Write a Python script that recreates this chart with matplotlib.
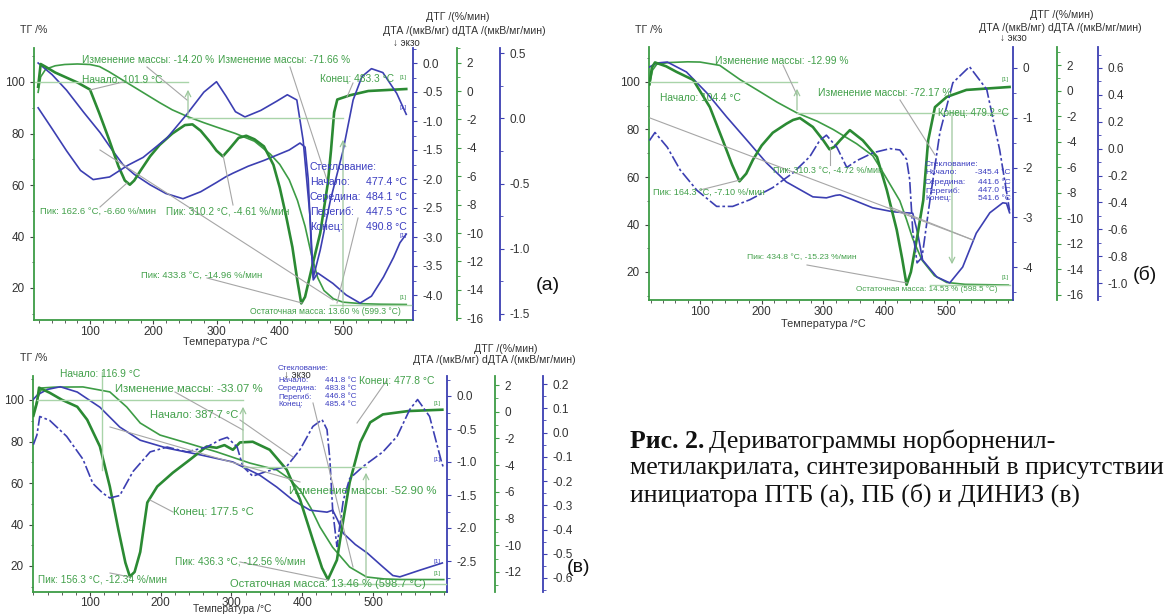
import matplotlib.pyplot as plt
from matplotlib.ticker import MultipleLocator, FormatStrFormatter

plt.rcParams['font.family'] = ['Liberation Sans', 'DejaVu Sans']
plt.rcParams['axes.unicode_minus'] = False

# ---------------- (а) ПТБ ----------------
t_tg_a = [18, 22, 30, 45, 60, 80, 100, 115, 130, 150, 170, 190, 210, 230, 255, 280, 300, 330, 360, 385,
          400, 415, 428, 440, 450, 460, 470, 485, 500, 530, 560, 600]
tg_a = [96, 102, 105, 106.3, 106.8, 107, 106.8, 106, 104, 101, 98, 95, 92, 89.2, 86.5, 84.2, 82.5, 80, 77, 72,
        68, 62, 54, 44, 33, 24, 19, 15.8, 14.5, 13.9, 13.7, 13.6]
t_dtg_a = [18, 22, 30, 45, 60, 80, 100, 115, 130, 145, 155, 163, 170, 180, 195, 210, 230, 250, 262, 275,
           290, 300, 310, 320, 335, 347, 360, 375, 390, 400, 410, 420, 428, 434, 440, 451, 464, 476, 481, 486,
           491, 511, 540, 600]
dtg_a = [0.3, 1.9, 1.7, 1.3, 1.0, 0.6, 0.1, -1.6, -3.4, -5.3, -6.3, -6.6, -6.3, -5.6, -4.6, -3.8, -3.0, -2.4, -2.35, -2.8,
         -3.6, -4.2, -4.6, -4.1, -3.3, -3.15, -3.4, -3.9, -5.2, -6.8, -8.8, -11.0, -13.4, -14.96, -14.5, -12.4, -10.0, -6.5, -4.2, -1.5,
         -0.6, -0.3, 0.0, 0.14]
t_dta_a = [18, 40, 63, 90, 116, 135, 152, 170, 195, 220, 247, 275, 300, 315, 326, 350, 375, 395, 415, 432,
           440, 445, 450, 453, 460, 484, 505, 527, 545, 564, 580, 590, 600]
dta_a = [0.0, -0.2, -0.47, -0.85, -1.2, -1.5, -1.75, -1.92, -2.1, -2.25, -2.34, -2.22, -2.06, -1.96, -1.9, -1.78, -1.68, -1.59, -1.5, -1.38,
         -1.45, -2.0, -3.2, -3.74, -3.62, -3.8, -4.0, -4.14, -4.02, -3.69, -3.35, -3.1, -2.95]
t_dd_a = [18, 40, 63, 85, 105, 131, 160, 184, 222, 253, 280, 300, 315, 330, 345, 370, 395, 412, 427, 437,
          448, 453, 464, 480, 500, 516, 530, 545, 563, 585, 600]
dd_a = [0.08, -0.08, -0.25, -0.4, -0.47, -0.45, -0.36, -0.3, -0.15, 0.03, 0.2, 0.28, 0.17, 0.05, 0.01, 0.06, 0.13, 0.18, 0.14, -0.17,
        -0.76, -1.22, -1.01, -0.63, -0.25, 0.14, 0.32, 0.38, 0.35, 0.19, 0.03]

# ---------------- (б) ПБ ----------------
t_tg_b = [18, 23, 30, 50, 80, 100, 132, 165, 193, 225, 257, 290, 316, 354, 380, 392, 408, 424, 435, 445,
          460, 480, 500, 530, 600]
tg_b = [98.7, 105, 107.5, 108.2, 108.5, 108.4, 107, 101, 96.6, 91.5, 87, 83.5, 80, 74, 69, 64, 57, 50, 42, 34,
        25, 18.5, 15.6, 14.8, 14.5]
t_dtg_b = [18, 22, 27, 45, 62, 89, 116, 137, 152, 164, 175, 186, 200, 218, 240, 251, 262, 283, 300, 310,
           318, 327, 343, 364, 387, 403, 419, 428, 435, 442, 452, 462, 470, 481, 500, 532, 602]
dtg_b = [0.5, 1.8, 2.2, 1.9, 1.46, 0.83, -1.3, -3.9, -5.8, -7.1, -6.5, -5.4, -4.3, -3.3, -2.6, -2.3, -2.15, -2.85, -3.9, -4.6,
         -4.4, -3.9, -3.1, -3.9, -5.2, -7.8, -10.9, -13.2, -15.2, -14.2, -11.5, -8.6, -3.9, -1.3, -0.5, 0.05, 0.28]
t_dta_b = [18, 30, 47, 78, 111, 143, 176, 208, 240, 283, 305, 320, 327, 348, 380, 413, 445, 453, 461, 484,
           505, 526, 548, 570, 591, 597, 602]
dta_b = [0.02, 0.1, 0.12, -0.08, -0.5, -0.98, -1.45, -1.91, -2.29, -2.59, -2.61, -2.56, -2.55, -2.65, -2.81, -2.89, -2.92, -3.32, -3.86, -4.2,
         -4.32, -4.0, -3.32, -2.91, -2.71, -2.72, -2.91]
t_dd_b = [18, 27, 47, 68, 95, 127, 153, 181, 218, 251, 278, 294, 305, 322, 338, 354, 381, 408, 424, 435,
          440, 445, 452, 460, 473, 489, 510, 537, 565, 586, 602]
dd_b = [0.06, 0.12, 0.01, -0.16, -0.31, -0.43, -0.43, -0.38, -0.29, -0.18, -0.06, 0.06, 0.10, 0.01, -0.14, -0.09, -0.03, 0.0, -0.01, -0.08,
        -0.23, -0.61, -0.85, -0.81, -0.38, 0.12, 0.49, 0.61, 0.44, -0.01, -0.46]

# ---------------- (в) ДИНИЗ ----------------
t_tg_v = [20, 25, 32, 50, 90, 128, 152, 171, 199, 237, 279, 326, 364, 380, 397, 412, 425, 443, 467, 491,
          515, 538, 600]
tg_v = [93, 100, 105.8, 106.2, 106.3, 103.9, 96.6, 88.9, 83.1, 79.3, 75, 69.6, 66.3, 62.5, 56.6, 48, 38.8, 29, 19.5, 14.7,
        13.8, 13.5, 13.46]
t_dtg_v = [20, 25, 28, 43, 60, 82, 96, 114, 128, 140, 150, 156.3, 163, 171, 181, 195, 217, 241, 265, 279,
           290, 302, 312, 330, 354, 378, 397, 415, 428, 436.3, 449, 458, 467, 482, 496, 514, 550, 598]
dtg_v = [-0.3, 0.67, 1.8, 1.42, 0.9, 0.37, -0.6, -2.6, -5.6, -8.8, -11.3, -12.34, -12.0, -10.5, -6.8, -5.6, -4.57, -3.6, -2.6, -2.7,
         -2.5, -2.85, -2.3, -2.25, -2.85, -4.34, -6.6, -9.6, -11.7, -12.56, -11.1, -8.1, -5.3, -2.3, -0.8, -0.2, 0.05, 0.15]
t_dta_v = [20, 26, 40, 58, 82, 114, 142, 171, 209, 255, 302, 340, 364, 387, 411, 435, 443, 450, 458, 475,
           492, 514, 528, 538, 566, 598]
dta_v = [-0.05, 0.02, 0.1, 0.14, 0.06, -0.17, -0.47, -0.67, -0.79, -0.89, -1.0, -1.2, -1.38, -1.58, -1.73, -1.76, -1.73, -1.88, -2.08, -2.25,
         -2.38, -2.59, -2.72, -2.74, -2.64, -2.53]
t_dd_v = [20, 25, 29, 43, 67, 90, 104, 118, 128, 142, 161, 185, 209, 237, 265, 284, 294, 308, 316, 330,
          350, 378, 397, 415, 428, 435, 439, 443, 449, 458, 467, 486, 514, 534, 552, 563, 580, 597, 599]
dd_v = [-0.05, -0.01, 0.066, 0.05, -0.016, -0.11, -0.21, -0.25, -0.27, -0.26, -0.16, -0.08, -0.06, -0.08, -0.06, -0.03, -0.02, -0.06, -0.14, -0.18,
        -0.16, -0.14, -0.07, 0.025, 0.053, 0.012, -0.11, -0.32, -0.47, -0.28, -0.19, -0.14, -0.08, -0.016, 0.095, 0.136, 0.066, -0.123, -0.14]

W, H = 1171, 614
C_TG = '#3d9c45'
C_DTG = '#2b8a33'
C_BL = '#3c3fb2'
C_TXT_G = '#42a04a'
C_TXT_B = '#3a3cc0'
C_LEAD = '#a6a6a6'
C_REF = '#a9d4a9'

fig = plt.figure(figsize=(W / 100, H / 100), dpi=100)


def span(cal, p_lo, p_hi):
    v1, p1, v2, p2 = cal
    k = (v2 - v1) / (p2 - p1)
    return v1 + (p_lo - p1) * k, v1 + (p_hi - p1) * k


def panel(frame, xcal, tgcal, right, data, dd_ls, xpad=3.5):
    x0, x1, yt, yb = frame
    ax = fig.add_axes([x0 / W, 1 - yb / H, (x1 - x0) / W, (yb - yt) / H])
    ax.patch.set_alpha(0)
    ax.set_xlim(*span(xcal, x0, x1))
    ax.set_ylim(*span(tgcal, yb, yt))
    ax.set_xticks(range(100, 600, 100))
    ax.xaxis.set_minor_locator(MultipleLocator(20))
    ax.yaxis.set_major_locator(MultipleLocator(20))
    ax.yaxis.set_minor_locator(MultipleLocator(10))
    for s in ('top', 'right'):
        ax.spines[s].set_visible(False)
    ax.spines['left'].set_color(C_TG)
    ax.spines['bottom'].set_color(C_TG)
    ax.spines['left'].set_linewidth(1.3)
    ax.spines['bottom'].set_linewidth(1.3)
    ax.tick_params(which='both', colors='#444444', labelsize=8.5, labelcolor='#333333')
    ax.tick_params(which='major', length=3)
    ax.tick_params(which='minor', length=1.8)
    ax.tick_params(axis='x', pad=xpad)
    t_tg, tg, t_dtg, dtg, t_dta, dta, t_dd, dd = data
    ax.plot(t_tg, tg, color=C_TG, lw=1.2)

    axes = []
    for (cal, step, fmt, px, col) in right:
        tw = ax.twinx()
        tw.patch.set_alpha(0)
        tw.set_ylim(*span(cal, yb, yt))
        for s in ('top', 'left', 'bottom'):
            tw.spines[s].set_visible(False)
        tw.spines['right'].set_position(('axes', (px - x0) / (x1 - x0)))
        tw.spines['right'].set_color(col)
        tw.spines['right'].set_linewidth(1.3)
        tw.yaxis.set_major_locator(MultipleLocator(step))
        tw.yaxis.set_minor_locator(MultipleLocator(step / 2))
        tw.yaxis.set_major_formatter(FormatStrFormatter(fmt))
        tw.tick_params(which='both', colors=col, labelsize=8.5, labelcolor='#333333')
        tw.tick_params(which='major', length=3)
        tw.tick_params(which='minor', length=1.8)
        axes.append(tw)
    a_dta, a_dtg, a_dd = axes
    a_dtg.plot(t_dtg, dtg, color=C_DTG, lw=1.9)
    a_dta.plot(t_dta, dta, color=C_BL, lw=1.2)
    a_dd.plot(t_dd, dd, color=C_BL, lw=1.2, ls=dd_ls)
    return ax


dashdot = (0, (7, 1.6, 1.6, 1.6))

panel((34, 413, 48, 320), (100, 90, 500, 343), (100, 82, 20, 288),
      [((0.0, 63, -4.0, 295), 0.5, '%.1f', 413, C_BL),
       ((2, 62.6, -16, 318.2), 2, '%d', 457, C_TG),
       ((0.5, 53, -1.5, 314), 0.5, '%.1f', 500, C_BL)],
      (t_tg_a, tg_a, t_dtg_a, dtg_a, t_dta_a, dta_a, t_dd_a, dd_a), '-', xpad=1.5)

panel((649, 1013, 47, 300), (100, 700, 400, 885), (100, 82, 20, 272),
      [((0, 68, -4, 267), 1, '%d', 1013, C_BL),
       ((2, 65, -16, 295), 2, '%d', 1057, C_TG),
       ((0.6, 68, -1.0, 283), 0.2, '%.1f', 1098, C_BL)],
      (t_tg_b, tg_b, t_dtg_b, dtg_b, t_dta_b, dta_b, t_dd_b, dd_b), dashdot, xpad=1.5)

panel((33, 447, 376, 592), (100, 90, 500, 373), (100, 400, 20, 566),
      [((0.0, 396, -2.5, 561), 0.5, '%.1f', 447, C_BL),
       ((2, 385, -12, 572), 2, '%d', 495, C_TG),
       ((0.2, 384, -0.6, 578), 0.1, '%.1f', 543, C_BL)],
      (t_tg_v, tg_v, t_dtg_v, dtg_v, t_dta_v, dta_v, t_dd_v, dd_v), dashdot, xpad=0.5)

# overlay in pixel coordinates for annotations
ov = fig.add_axes([0, 0, 1, 1])
ov.set_xlim(0, W)
ov.set_ylim(H, 0)
ov.axis('off')
ov.patch.set_alpha(0)

refs = [
    [(35, 82), (188, 82)], [(188, 118), (343, 118)], [(330, 305), (411, 305)],
    [(650, 82), (797, 82)], [(797, 113), (1008, 113)], [(930, 285), (1010, 285)],
    [(37, 400), (243, 400)], [(102, 372), (102, 470)], [(243, 467), (366, 467)], [(340, 584), (446, 584)],
]
for (p, q) in refs:
    ov.plot([p[0], q[0]], [p[1], q[1]], color=C_REF, lw=1.0)

arrows = [((188, 118), (188, 87)), ((343, 310), (343, 137)),
          ((797, 113), (797, 86)), ((952, 113), (952, 267)),
          ((243, 467), (243, 404)), ((366, 584), (366, 470))]
for (p, q) in arrows:
    ov.annotate('', xy=q, xytext=p, arrowprops=dict(arrowstyle='->', color='#9cc79c', lw=0.9))

leads = [
    [(123, 82), (90, 90)], [(147, 67), (187, 100)], [(290, 67), (327, 180)], [(100, 150), (333, 300)],
    [(100, 207), (127, 183)], [(233, 205), (223, 155)], [(207, 278), (302, 303)], [(353, 83), (347, 97)],
    [(358, 218), (337, 303)],
    [(783, 65), (797, 95)], [(900, 100), (935, 155)], [(650, 118), (973, 240)], [(700, 190), (740, 180)],
    [(830, 165), (830, 148)], [(807, 265), (907, 283)], [(890, 207), (973, 240)],
    [(150, 500), (173, 512)], [(240, 420), (293, 457)], [(240, 562), (328, 580)], [(110, 573), (130, 577)],
    [(387, 380), (357, 423)], [(313, 403), (353, 567)], [(110, 427), (300, 482)], [(175, 392), (243, 430)],
]
for (p, q) in leads:
    ov.plot([p[0], q[0]], [p[1], q[1]], color=C_LEAD, lw=0.8)

labels = [
    # (а)
    (82, 60, 'Изменение массы: -14.20 %', C_TXT_G, 7.3),
    (218, 60, 'Изменение массы: -71.66 %', C_TXT_G, 7.3),
    (82, 80, 'Начало: 101.9 °C', C_TXT_G, 7.3),
    (320, 79, 'Конец: 483.3 °C', C_TXT_G, 7.3),
    (40, 211, 'Пик: 162.6 °C, -6.60 %/мин', C_TXT_G, 6.8),
    (166, 211, 'Пик: 310.2 °C, -4.61 %/мин', C_TXT_G, 7.2),
    (141, 275, 'Пик: 433.8 °C, -14.96 %/мин', C_TXT_G, 6.8),
    (250, 311, 'Остаточная масса: 13.60 % (599.3 °C)', C_TXT_G, 6.2),
    (310, 167, 'Стеклование:', C_TXT_B, 7.6),
    (310, 182, 'Начало:', C_TXT_B, 7.6), (366, 182, '477.4 °C', C_TXT_B, 7.6),
    (310, 197, 'Середина:', C_TXT_B, 7.6), (366, 197, '484.1 °C', C_TXT_B, 7.6),
    (310, 212, 'Перегиб:', C_TXT_B, 7.6), (366, 212, '447.5 °C', C_TXT_B, 7.6),
    (310, 227, 'Конец:', C_TXT_B, 7.6), (366, 227, '490.8 °C', C_TXT_B, 7.6),
    (400, 77, '[1]', C_TXT_G, 4.5), (400, 108, '[1]', C_TXT_B, 4.5),
    (400, 236, '[1]', C_TXT_B, 4.5), (400, 297, '[1]', C_TXT_G, 4.5),
    # (б)
    (715, 61, 'Изменение массы: -12.99 %', C_TXT_G, 7.4),
    (818, 93, 'Изменение массы: -72.17 %', C_TXT_G, 7.4),
    (660, 98, 'Начало: 104.4 °C', C_TXT_G, 7.4),
    (938, 113, 'Конец: 479.2 °C', C_TXT_G, 7.0),
    (773, 170, 'Пик: 310.3 °C, -4.72 %/мин', C_TXT_G, 6.4),
    (653, 192, 'Пик: 164.3 °C, -7.10 %/мин', C_TXT_G, 6.6),
    (747, 258, 'Пик: 434.8 °C, -15.23 %/мин', C_TXT_G, 6.1),
    (856, 289, 'Остаточная масса: 14.53 % (598.5 °C)', C_TXT_G, 5.8),
    (925, 165, 'Стеклование:', C_TXT_B, 6.0),
    (925, 173, 'Начало:', C_TXT_B, 6.0), (975, 173, '-345.4 °C', C_TXT_B, 6.0),
    (925, 182, 'Середина:', C_TXT_B, 6.0), (978, 182, '441.6 °C', C_TXT_B, 6.0),
    (925, 191, 'Перегиб:', C_TXT_B, 6.0), (978, 191, '447.0 °C', C_TXT_B, 6.0),
    (925, 199, 'Конец:', C_TXT_B, 6.0), (978, 199, '541.6 °C', C_TXT_B, 6.0),
    (1001, 80, '[1]', C_TXT_G, 4.5), (1001, 278, '[1]', C_TXT_G, 4.5),
    # (в)
    (60, 374, 'Начало: 116.9 °C', C_TXT_G, 7.4),
    (115, 389, 'Изменение массы: -33.07 %', C_TXT_G, 8.2),
    (150, 415, 'Начало: 387.7 °C', C_TXT_G, 8.0),
    (173, 512, 'Конец: 177.5 °C', C_TXT_G, 8.0),
    (175, 562, 'Пик: 436.3 °C, -12.56 %/мин', C_TXT_G, 7.3),
    (38, 580, 'Пик: 156.3 °C, -12.34 %/мин', C_TXT_G, 7.2),
    (230, 584, 'Остаточная масса: 13.46 % (598.7 °C)', C_TXT_G, 8.0),
    (289, 491, 'Изменение массы: -52.90 %', C_TXT_G, 8.2),
    (359, 381, 'Конец: 477.8 °C', C_TXT_G, 7.5),
    (278, 369, 'Стеклование:', C_TXT_B, 5.8),
    (278, 380, 'Начало:', C_TXT_B, 5.8), (325, 380, '441.8 °C', C_TXT_B, 5.8),
    (278, 388, 'Середина:', C_TXT_B, 5.8), (325, 388, '483.8 °C', C_TXT_B, 5.8),
    (278, 397, 'Перегиб:', C_TXT_B, 5.8), (325, 397, '446.8 °C', C_TXT_B, 5.8),
    (278, 405, 'Конец:', C_TXT_B, 5.8), (325, 405, '485.4 °C', C_TXT_B, 5.8),
    (434, 404, '[1]', C_TXT_G, 4.5), (434, 460, '[1]', C_TXT_B, 4.5),
    (434, 562, '[1]', C_TXT_B, 4.5), (434, 574, '[1]', C_TXT_G, 4.5),
]
for (x, y, s, c, fs) in labels:
    ov.text(x, y, s, color=c, fontsize=fs, va='center', ha='left')

# headers and axis titles
for (x, y, s, ha, fs) in [
    (20, 30, 'ТГ /%', 'left', 7.6), (458, 17, 'ДТГ /(%/мин)', 'center', 7.6),
    (464, 31, 'ДТА /(мкВ/мг) dДТА /(мкВ/мг/мин)', 'center', 7.6), (393, 43, '↓ экзо', 'left', 7),
    (225, 342, 'Температура /°C', 'center', 7.8),
    (635, 30, 'ТГ /%', 'left', 7.6), (1062, 15, 'ДТГ /(%/мин)', 'center', 7.6),
    (1060, 28, 'ДТА /(мкВ/мг) dДТА /(мкВ/мг/мин)', 'center', 7.6), (1000, 38, '↓ экзо', 'left', 7),
    (823, 324, 'Температура /°C', 'center', 7.8),
    (20, 358, 'ТГ /%', 'left', 7.6), (506, 349, 'ДТГ /(%/мин)', 'center', 7.6),
    (494, 360, 'ДТА /(мкВ/мг) dДТА /(мкВ/мг/мин)', 'center', 7.6), (284, 375, '↓ экзо', 'left', 7),
    (232, 609, 'Температура /°C', 'center', 7.3),
]:
    ov.text(x, y, s, color='#333333', fontsize=fs, va='center', ha=ha)

for (x, y, s) in [(548, 285, '(a)'), (1145, 275, '(б)'), (578, 568, '(в)')]:
    ov.text(x, y, s, color='#111111', fontsize=14, va='center', ha='center',
            family=['Liberation Sans', 'DejaVu Sans'])

# caption
cap_font = ['Liberation Serif', 'DejaVu Serif']
cap_size = 18.5
t0 = ov.text(630, 441, 'Рис. 2.', fontsize=cap_size, fontweight='bold', family=cap_font,
             va='center', ha='left', color='#111111')
fig.canvas.draw()
bb = t0.get_window_extent()
ov.text(bb.x1 + 5, 441, 'Дериватограммы норборненил-', fontsize=cap_size, family=cap_font,
        va='center', ha='left', color='#111111')
ov.text(630, 468, 'метилакрилата, синтезированный в присутствии', fontsize=cap_size,
        family=cap_font, va='center', ha='left', color='#111111')
ov.text(630, 495, 'инициатора ПТБ (а), ПБ (б) и ДИНИЗ (в)', fontsize=cap_size,
        family=cap_font, va='center', ha='left', color='#111111')

fig.savefig('out.png', dpi=100)
